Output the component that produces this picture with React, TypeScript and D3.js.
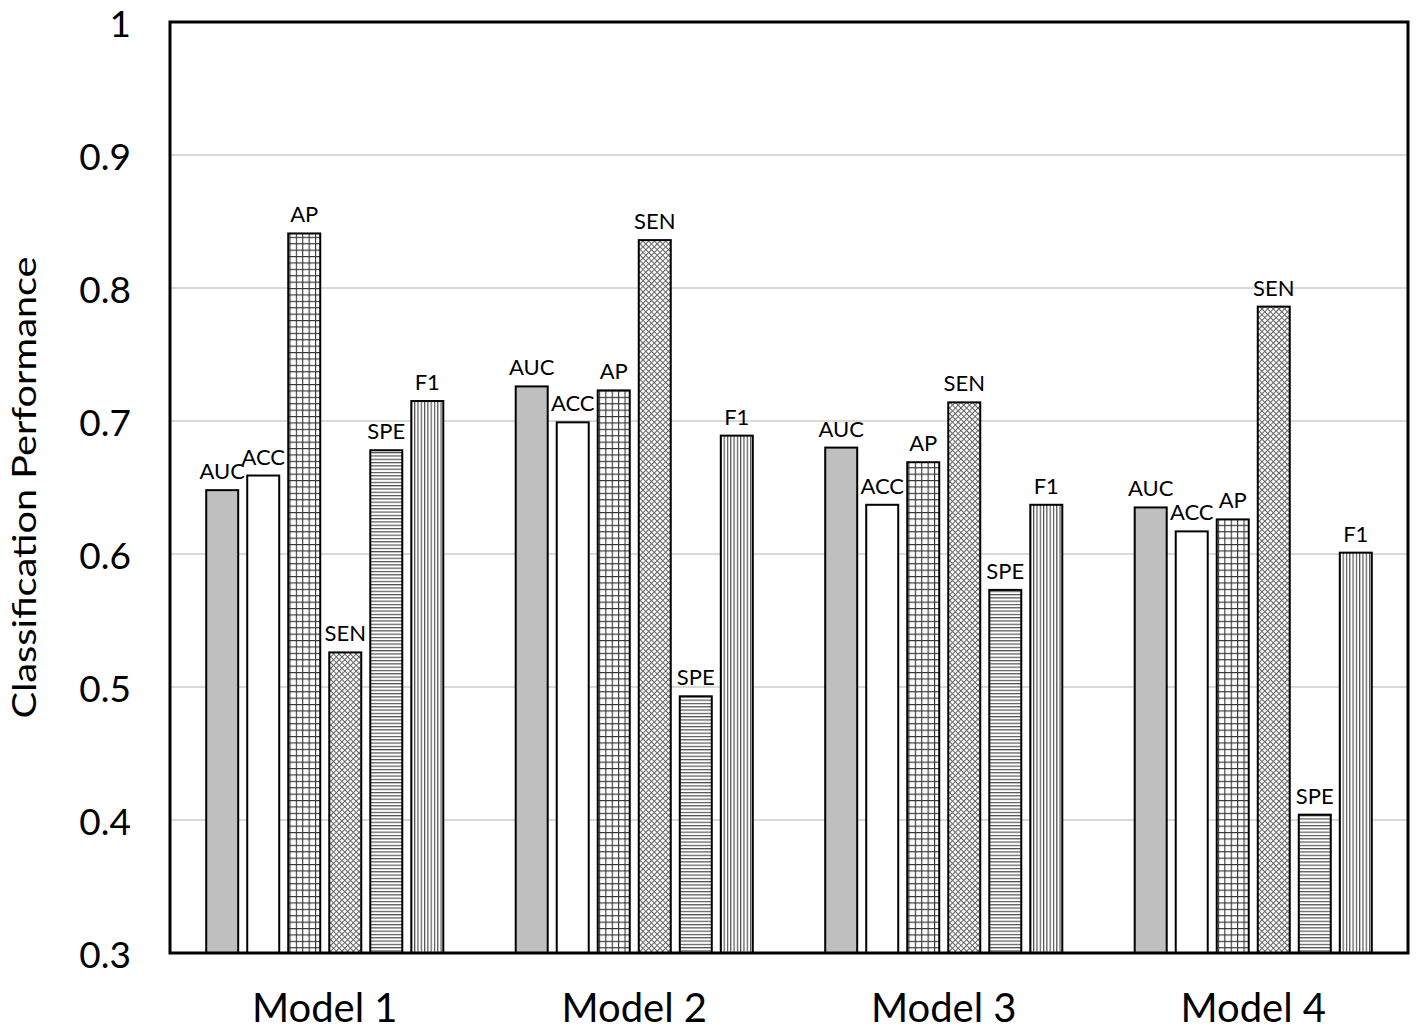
import React, { useEffect, useRef } from 'react';
import * as d3 from 'd3';

const models = ['Model 1', 'Model 2', 'Model 3', 'Model 4'];
const metrics = ['AUC', 'ACC', 'AP', 'SEN', 'SPE', 'F1'];

const auc = [0.648, 0.726, 0.680, 0.635];
const acc = [0.659, 0.699, 0.637, 0.617];
const ap = [0.841, 0.723, 0.669, 0.626];
const sen = [0.526, 0.836, 0.714, 0.786];
const spe = [0.678, 0.493, 0.573, 0.404];
const f1 = [0.715, 0.689, 0.637, 0.601];

const yTicks = [0.3, 0.4, 0.5, 0.6, 0.7, 0.8, 0.9, 1];

const seriesValues: number[][] = [auc, acc, ap, sen, spe, f1];

const App: React.FC = () => {
  const svgRef = useRef<SVGSVGElement>(null);
  const width = 1418;
  const height = 1034;

  useEffect(() => {
    if (!svgRef.current) return;
    const svg = d3.select(svgRef.current);
    svg.selectAll('*').remove();

    const left = 170, right = 1408, top = 22, bottom = 953;
    const font = 'Lato, "Open Sans", sans-serif';

    const defs = svg.append('defs');

    // fill patterns for the bars
    const grid = defs.append('pattern').attr('id', 'p-grid')
      .attr('patternUnits', 'userSpaceOnUse').attr('width', 6.4).attr('height', 6.4);
    grid.append('rect').attr('width', 6.4).attr('height', 6.4).attr('fill', '#fff');
    grid.append('path').attr('d', 'M0,0.5H6.4M0.5,0V6.4')
      .attr('stroke', '#333').attr('stroke-width', 1.2);

    const cross = defs.append('pattern').attr('id', 'p-cross')
      .attr('patternUnits', 'userSpaceOnUse').attr('width', 4).attr('height', 4)
      .attr('patternTransform', 'rotate(45)');
    cross.append('rect').attr('width', 4).attr('height', 4).attr('fill', '#fff');
    cross.append('path').attr('d', 'M0,0.5H4M0.5,0V4')
      .attr('stroke', '#666').attr('stroke-width', 1.1);

    const hor = defs.append('pattern').attr('id', 'p-hor')
      .attr('patternUnits', 'userSpaceOnUse').attr('width', 8).attr('height', 3.3);
    hor.append('rect').attr('width', 8).attr('height', 3.3).attr('fill', '#fff');
    hor.append('path').attr('d', 'M0,0.6H8').attr('stroke', '#444').attr('stroke-width', 1.1);

    const ver = defs.append('pattern').attr('id', 'p-ver')
      .attr('patternUnits', 'userSpaceOnUse').attr('width', 3.3).attr('height', 8);
    ver.append('rect').attr('width', 3.3).attr('height', 8).attr('fill', '#fff');
    ver.append('path').attr('d', 'M0.6,0V8').attr('stroke', '#444').attr('stroke-width', 1.1);

    const fills = ['#bfbfbf', '#ffffff', 'url(#p-grid)', 'url(#p-cross)', 'url(#p-hor)', 'url(#p-ver)'];

    const y = d3.scaleLinear().domain([0.3, 1]).range([bottom, top]);
    const x0 = d3.scaleBand().domain(models).range([left, right])
      .paddingInner(0.234).paddingOuter(0.117);
    const x1 = d3.scaleBand().domain(metrics).range([0, x0.bandwidth()]).paddingInner(0.22);

    // gridlines
    svg.append('g').selectAll('line')
      .data(yTicks.slice(1, -1))
      .enter().append('line')
      .attr('x1', left).attr('x2', right)
      .attr('y1', d => y(d)).attr('y2', d => y(d))
      .attr('stroke', '#d9d9d9').attr('stroke-width', 2);

    // tick labels
    svg.append('g').selectAll('text')
      .data(yTicks)
      .enter().append('text')
      .attr('x', 131)
      .attr('y', d => y(d))
      .attr('dy', '0.4em')
      .attr('text-anchor', 'end')
      .style('font-family', font)
      .style('font-size', '37px')
      .style('fill', '#000')
      .text(d => String(d));

    // bars
    const groups = svg.append('g').selectAll('g')
      .data(models)
      .enter().append('g')
      .attr('transform', d => `translate(${x0(d)},0)`);

    groups.selectAll('rect')
      .data((_, i) => metrics.map((m, j) => ({ metric: m, value: seriesValues[j][i], j })))
      .enter().append('rect')
      .attr('x', d => x1(d.metric)!)
      .attr('y', d => y(d.value))
      .attr('width', x1.bandwidth())
      .attr('height', d => bottom - y(d.value))
      .attr('fill', d => fills[d.j])
      .attr('stroke', '#000')
      .attr('stroke-width', 2);

    groups.selectAll('text')
      .data((_, i) => metrics.map((m, j) => ({ metric: m, value: seriesValues[j][i] })))
      .enter().append('text')
      .attr('x', d => x1(d.metric)! + x1.bandwidth() / 2)
      .attr('y', d => y(d.value) - 11)
      .attr('text-anchor', 'middle')
      .style('font-family', font)
      .style('font-size', '22px')
      .style('fill', '#000')
      .text(d => d.metric);

    // frame
    svg.append('rect')
      .attr('x', left).attr('y', top)
      .attr('width', right - left).attr('height', bottom - top)
      .attr('fill', 'none').attr('stroke', '#000').attr('stroke-width', 3);

    // category labels
    svg.append('g').selectAll('text')
      .data(models)
      .enter().append('text')
      .attr('x', d => x0(d)! + x0.bandwidth() / 2)
      .attr('y', 1022)
      .attr('text-anchor', 'middle')
      .style('font-family', font)
      .style('font-size', '40px')
      .style('fill', '#000')
      .text(d => d);

    // y axis title (stretched along its baseline like the source)
    svg.append('text')
      .attr('transform', `translate(36,${(top + bottom) / 2}) rotate(-90) scale(1.24,1)`)
      .attr('text-anchor', 'middle')
      .style('font-family', font)
      .style('font-size', '32px')
      .style('fill', '#000')
      .text('Classification Performance');
  }, []);

  return (
    <svg
      ref={svgRef}
      width={width}
      height={height}
      style={{ position: 'absolute', left: 0, top: 0, background: '#fff' }}
    />
  );
};

export default App;
